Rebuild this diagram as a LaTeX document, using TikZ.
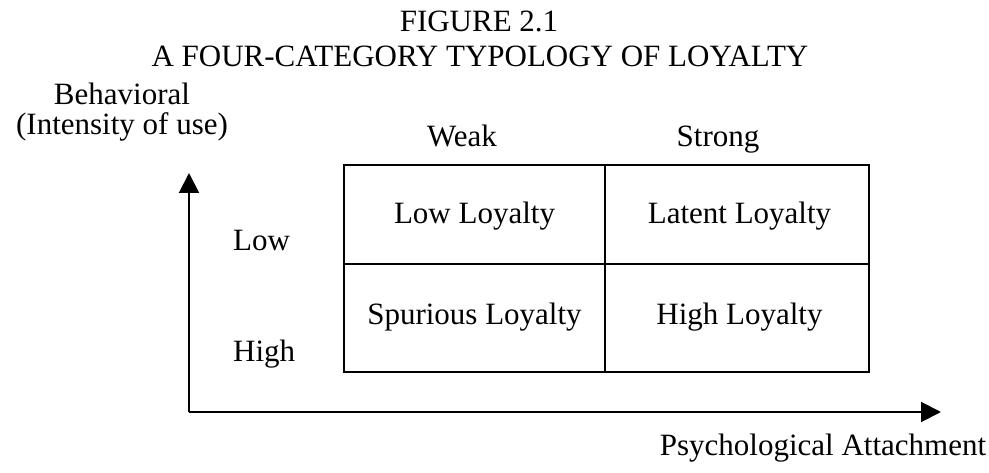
\documentclass[tikz,border=0pt]{standalone}
\usepackage{fontspec}
\setmainfont{Liberation Serif}
\usetikzlibrary{arrows.meta}
\tikzset{
  lbl/.style={inner sep=0pt, anchor=base, font=\fontsize{31}{35}\selectfont},
  lblw/.style={lbl, anchor=base west},
  gridline/.style={line width=2.4pt, line cap=rect},
  axis/.style={line width=2pt, -{Triangle[length=20pt,width=20pt]}}
}
\begin{document}
\begin{tikzpicture}[x=1pt,y=-1pt]
\fill[white] (0,0) rectangle (989,473);
\useasboundingbox (0,0) rectangle (989,473);
% titles
\node[lbl] (fig) at (479,32) {FIGURE 2.1};
\node[lbl] (title) at (480,67) {A FOUR-CATEGORY TYPOLOGY OF LOYALTY};
% axis labels
\node[lbl] (beh) at (122,105) {Behavioral};
\node[lbl] (int) at (122,134.5) {(Intensity of use)};
\node[lbl] (weak) at (462,147) {Weak};
\node[lbl] (strong) at (718,147) {Strong};
\node[lblw] (low) at (233,251) {Low};
\node[lblw] (high) at (233,362) {High};
\node[lbl] (psy) at (823,455) {Psychological Attachment};
% grid
\coordinate (tl) at (344,165);
\coordinate (br) at (869,372);
\coordinate (mt) at (605,165);
\coordinate (mb) at (605,372);
\coordinate (ml) at (344,264);
\coordinate (mr) at (869,264);
\draw[gridline] (tl) rectangle (br);
\draw[gridline] (mt) -- (mb);
\draw[gridline] (ml) -- (mr);
% cell texts
\node[lbl] (lowl) at (474.5,224) {Low Loyalty};
\node[lbl] (latl) at (739.5,224) {Latent Loyalty};
\node[lbl] (spul) at (474.5,325) {Spurious Loyalty};
\node[lbl] (higl) at (739.5,325) {High Loyalty};
% axes
\coordinate (o) at (189,412);
\coordinate (ytip) at (189,173);
\coordinate (xtip) at (941,412);
\draw[axis] (o) -- (ytip);
\draw[axis] (o) -- (xtip);
\end{tikzpicture}
\end{document}
